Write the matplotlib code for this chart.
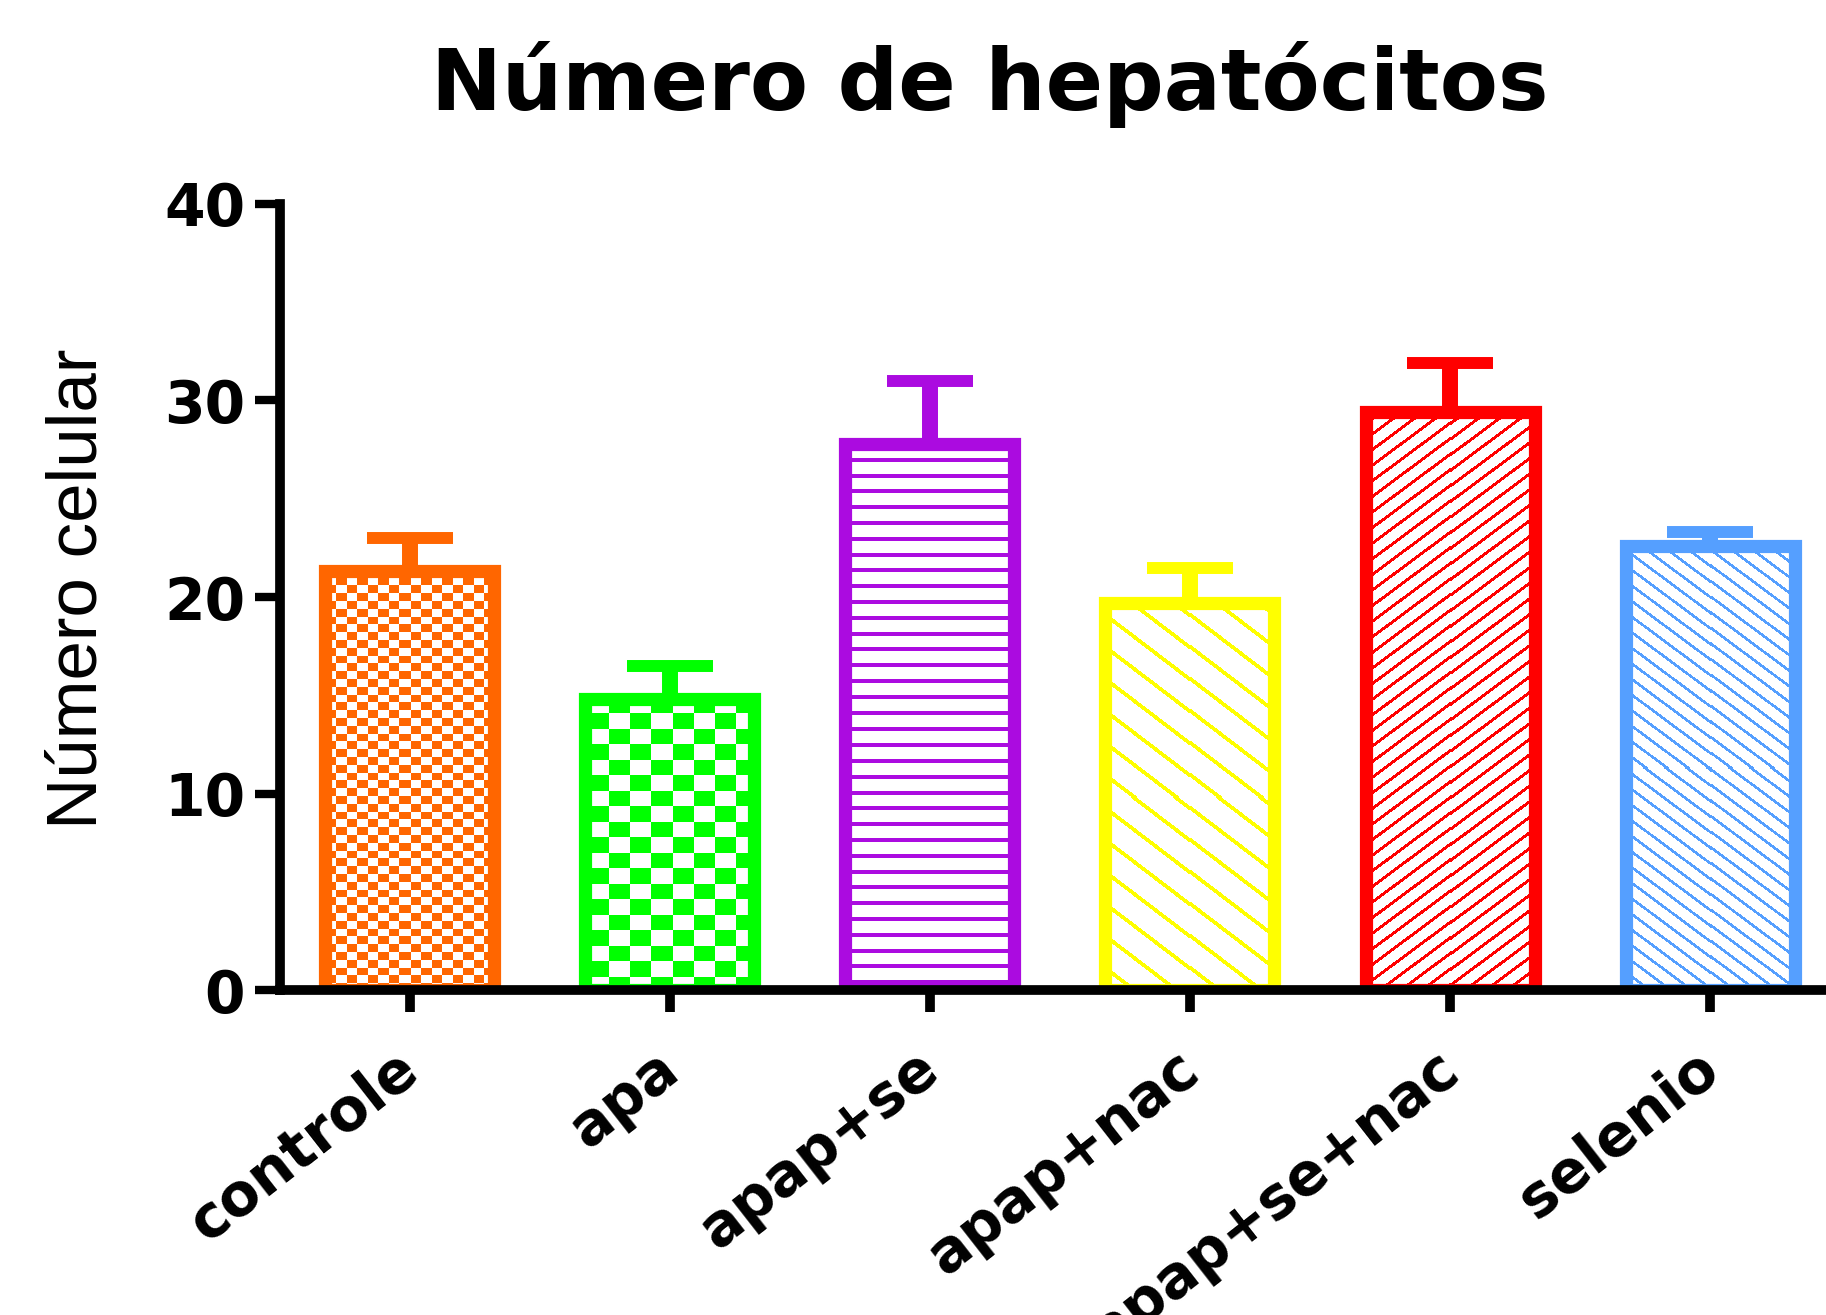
import matplotlib
matplotlib.use('Agg')
import matplotlib.pyplot as plt
from matplotlib.transforms import ScaledTranslation
import numpy as np

# data
grupos = ['controle', 'apa', 'apap+se', 'apap+nac', 'apap+se+nac', 'selenio']
media = [21.3, 14.8, 27.8, 19.7, 29.4, 22.6]
erro = [1.7, 1.7, 3.2, 1.8, 2.5, 0.7]
cores = ['#FF6600', '#00FF00', '#AB0BE0', '#FFFF00', '#FF0000', '#559FFF']
padroes = ['xadrez_fino', 'xadrez', 'horiz', 'diag_larga', 'diag_sobe', 'diag_desce']
yticks = [0, 10, 20, 30, 40]

plt.rcParams['font.family'] = 'DejaVu Sans'

fig = plt.figure(figsize=(18.26, 13.15), dpi=100)
ax = fig.add_axes([0.1533, 0.2471, 1 - 0.1533, 0.8449 - 0.2471])

x = np.arange(len(grupos))
ax.set_xlim(-0.5, len(grupos) - 0.554)
ax.set_ylim(0, 40)


def mascara(tipo, xx, yy):
    # pixel patterns like the GraphPad fills (yy grows downwards)
    if tipo == 'xadrez_fino':
        return ((np.floor(xx / 10.5) + np.floor(yy / 7.8)) % 2) == 0
    if tipo == 'xadrez':
        return ((np.floor(xx / 21.0) + np.floor(yy / 15.5)) % 2) == 0
    if tipo == 'horiz':
        return (yy % 15.8) < 4
    if tipo == 'diag_larga':
        return ((xx / 42.0 - yy / 32.0) % 1.0) < 0.15
    if tipo == 'diag_sobe':
        return ((xx / 21.0 + yy / 15.6) % 1.0) < 0.24
    if tipo == 'diag_desce':
        return ((xx / 21.0 - yy / 15.6) % 1.0) < 0.22
    return np.zeros_like(xx, dtype=bool)


for xi, m_, e_, c_ in zip(x, media, erro, cores):
    ax.errorbar(xi, m_, yerr=[[0], [e_]], fmt='none', ecolor=c_,
                elinewidth=11.5, capsize=31, capthick=8.6, zorder=1)

barras = ax.bar(x, media, width=0.65, facecolor='none', edgecolor=cores,
                linewidth=9.5, zorder=3)

fig.canvas.draw()
for b, cor, tipo in zip(barras, cores, padroes):
    x0, x1 = b.get_x(), b.get_x() + b.get_width()
    y0, y1 = 0, b.get_height()
    (px0, py0) = ax.transData.transform((x0, y0))
    (px1, py1) = ax.transData.transform((x1, y1))
    w = int(round(px1 - px0))
    h = int(round(py1 - py0))
    xx, yy = np.meshgrid(np.arange(w) + round(px0), np.arange(h) + (1315 - round(py1)))
    m = mascara(tipo, xx.astype(float), yy.astype(float))
    rgb = np.array(matplotlib.colors.to_rgb(cor))
    img = np.ones((h, w, 3))
    img[m] = rgb
    im = ax.imshow(img, extent=(x0, x1, y0, y1), origin='upper',
                   interpolation='nearest', aspect='auto', zorder=2)
    im.set_clip_path(b)

ax.set_xlim(-0.5, len(grupos) - 0.554)
ax.set_ylim(0, 40)

for s in ['top', 'right']:
    ax.spines[s].set_visible(False)
for s in ['left', 'bottom']:
    ax.spines[s].set_linewidth(7)
    ax.spines[s].set_zorder(5)

ax.set_yticks(yticks)
ax.set_yticklabels([str(v) for v in yticks], fontsize=42, fontweight='bold')
ax.tick_params(axis='y', length=18, width=6, pad=7)
ax.set_xticks(x)
ax.set_xticklabels(grupos, fontsize=42, fontweight='bold', rotation=38,
                   rotation_mode='anchor', ha='right', va='center')
ax.tick_params(axis='x', length=16, width=7, pad=36)
off = ScaledTranslation(2 / 100, 0, fig.dpi_scale_trans)
for t in ax.get_xticklabels():
    t.set_transform(t.get_transform() + off)

ax.set_ylabel('Número celular', fontsize=51, family='Liberation Sans')
ax.yaxis.set_label_coords(-0.109, 0.51)

fig.text(0.542, 0.936, 'Número de hepatócitos', fontsize=61, fontweight='bold',
         ha='center', va='center')

fig.savefig('out.png', dpi=100)
